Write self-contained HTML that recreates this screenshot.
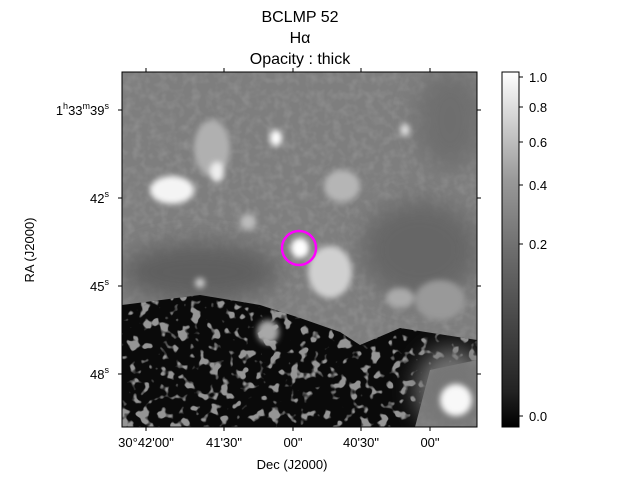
<!DOCTYPE html>
<html><head><meta charset="utf-8"><style>
body{margin:0;background:#fff;}
svg text{font-family:"Liberation Sans",sans-serif;fill:#000;}
</style></head><body>
<svg width="640" height="480" viewBox="0 0 640 480">
<defs>
<clipPath id="img"><rect x="122" y="72" width="355" height="355"/></clipPath>
<clipPath id="dark"><path d="M122 305 L200 295 L260 305 L300 318 L340 332 L360 345 L400 328 L477 340 L477 360 L430 370 L415 427 L122 427 Z"/></clipPath>
<filter id="noise" x="0" y="0" width="100%" height="100%">
<feTurbulence type="fractalNoise" baseFrequency="0.1" numOctaves="2" seed="4"/>
<feColorMatrix type="matrix" values="0 0 0 0 0.3  0 0 0 0 0.3  0 0 0 0 0.3  0 0 0 -10 4.4"/>
</filter>
<filter id="noise2" x="0" y="0" width="100%" height="100%">
<feTurbulence type="fractalNoise" baseFrequency="0.12" numOctaves="2" seed="9"/>
<feColorMatrix type="matrix" values="0 0 0 0 0.45  0 0 0 0 0.45  0 0 0 0 0.45  0 0 0 -2 1.2"/>
</filter>
<filter id="blur" x="-50%" y="-50%" width="200%" height="200%"><feGaussianBlur stdDeviation="12"/></filter>
<filter id="blur2" x="-50%" y="-50%" width="200%" height="200%"><feGaussianBlur stdDeviation="3"/></filter>
<linearGradient id="cb" x1="0" y1="1" x2="0" y2="0">
<stop offset="0" stop-color="#000"/><stop offset="0.1" stop-color="#222"/>
<stop offset="0.5" stop-color="#6e6e6e"/><stop offset="0.7" stop-color="#9a9a9a"/>
<stop offset="1" stop-color="#fff"/></linearGradient>
</defs>
<text x="300" y="22" font-size="16" text-anchor="middle">BCLMP 52</text>
<text x="300" y="43" font-size="16" text-anchor="middle">Hα</text>
<text x="300" y="64" font-size="16" text-anchor="middle">Opacity : thick</text>
<g clip-path="url(#img)">
<rect x="122" y="72" width="355" height="355" fill="#7e7e7e"/>
<rect x="122" y="72" width="355" height="355" filter="url(#noise2)" opacity="0.3"/>
<g filter="url(#blur)">
<ellipse cx="200" cy="272" rx="80" ry="30" fill="#5e5e5e"/>
<ellipse cx="420" cy="250" rx="60" ry="50" fill="#666"/>
<ellipse cx="450" cy="120" rx="35" ry="50" fill="#6e6e6e"/>
</g>
<g clip-path="url(#dark)">
<rect x="122" y="280" width="355" height="147" fill="#0a0a0a"/>
<rect x="122" y="280" width="355" height="147" filter="url(#noise)"/>
</g>
<g filter="url(#blur)">
<ellipse cx="452" cy="390" rx="36" ry="42" fill="#767676"/>
</g>
<g filter="url(#blur2)" fill="#fff">
<ellipse cx="172" cy="190" rx="22" ry="14" fill="#f4f4f4"/>
<ellipse cx="212" cy="148" rx="18" ry="28" fill="#b0b0b0"/>
<ellipse cx="217" cy="172" rx="7" ry="10" fill="#eee"/>
<ellipse cx="276" cy="138" rx="6" ry="8"/>
<ellipse cx="300" cy="248" rx="9" ry="10"/>
<ellipse cx="330" cy="272" rx="22" ry="26" fill="#d0d0d0"/>
<ellipse cx="342" cy="186" rx="18" ry="16" fill="#b5b5b5"/>
<ellipse cx="456" cy="400" rx="16" ry="16" fill="#f8f8f8"/>
<ellipse cx="268" cy="332" rx="11" ry="12" fill="#a8a8a8"/>
<ellipse cx="400" cy="298" rx="14" ry="10" fill="#aaa"/>
<ellipse cx="405" cy="130" rx="5" ry="6" fill="#ddd"/>
<ellipse cx="248" cy="222" rx="8" ry="8" fill="#bbb"/>
<ellipse cx="200" cy="283" rx="5" ry="5" fill="#ccc"/>
<ellipse cx="440" cy="300" rx="25" ry="20" fill="#999"/>
</g>
<circle id="marker" cx="299" cy="248" r="17" fill="none" stroke="#ff00ff" stroke-width="2.5"/>
</g>
<rect x="122" y="72" width="355" height="355" fill="none" stroke="#000" stroke-width="1"/>
<g id="axes"></g>
<text x="292" y="469" font-size="13" text-anchor="middle">Dec (J2000)</text>
<text x="34" y="250" font-size="13" text-anchor="middle" transform="rotate(-90 34 250)">RA (J2000)</text>
<rect x="502" y="72" width="17" height="355" fill="url(#cb)" stroke="#000" stroke-width="1"/>
<g id="cbticks"></g>
</svg>
<script>
const xLabels=['30°42\'00"','41\'30"','00"','40\'30"','00"'];
const xTickPx=[146,224,293,361,430];
const yLabels=['39','42','45','48'];
const yTickPx=[110,198,286,374];
const cbValues=[1.0,0.8,0.6,0.4,0.2,0.0];
const cbPx=[77,107,142,185,244,416];
const NS='http://www.w3.org/2000/svg';
const ax=document.getElementById('axes');
function mk(t,a,txt){const e=document.createElementNS(NS,t);for(const k in a)e.setAttribute(k,a[k]);if(txt!==undefined)e.textContent=txt;return e;}
xLabels.forEach((l,i)=>{const x=xTickPx[i];
 const t1=mk('line',{x1:x,y1:427,x2:x,y2:431,stroke:'#000'});
 
 
 ax.appendChild(t1);
 const t2=mk('line',{x1:x,y1:72,x2:x,y2:68,stroke:'#000'});
 
 
 ax.appendChild(t2);
 const tx=mk('text',{x:x,y:447,'font-size':13,'text-anchor':'middle'},l);
 
 
 ax.appendChild(tx);});
yLabels.forEach((l,i)=>{const y=yTickPx[i];
 const t1=mk('line',{x1:122,y1:y,x2:118,y2:y,stroke:'#000'});
 
 
 ax.appendChild(t1);
 const t2=mk('line',{x1:477,y1:y,x2:481,y2:y,stroke:'#000'});
 
 
 ax.appendChild(t2);
 const tx=mk('text',{x:109,y:y+5,'font-size':13,'text-anchor':'end'});
 if(i===0){tx.innerHTML='1<tspan font-size="9" dy="-6">h</tspan><tspan dy="6">33</tspan><tspan font-size="9" dy="-6">m</tspan><tspan dy="6">'+l+'</tspan><tspan font-size="9" dy="-6">s</tspan>';}
 else{tx.innerHTML=l+'<tspan font-size="9" dy="-6">s</tspan>';}
 
 
 ax.appendChild(tx);});
const cb=document.getElementById('cbticks');
cbValues.forEach((v,i)=>{const y=cbPx[i];
 const t=mk('line',{x1:519,y1:y,x2:523,y2:y,stroke:'#000'});
 
 
 cb.appendChild(t);
 const tx=mk('text',{x:529,y:y+5,'font-size':13},v.toFixed(1));
 
 
 cb.appendChild(tx);});
</script>
</body></html>
